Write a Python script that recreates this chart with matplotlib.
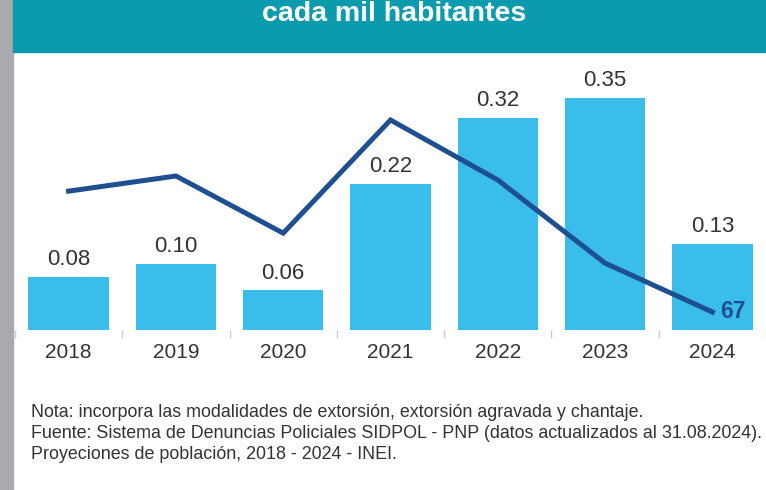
import matplotlib.pyplot as plt
import numpy as np

# datos
years = ['2018', '2019', '2020', '2021', '2022', '2023', '2024']
tasa = [0.08, 0.10, 0.06, 0.22, 0.32, 0.35, 0.13]
linea = [490, 543, 343, 739, 529, 238, 67]  # serie secundaria (solo se rotula el ultimo)

plt.rcParams['font.family'] = ['Liberation Sans', 'DejaVu Sans']

W, H = 766, 490
fig = plt.figure(figsize=(W / 100, H / 100), dpi=100)
fig.patch.set_facecolor('white')

# franja gris izquierda y banda del titulo
fig.patches.append(plt.Rectangle((0, 0), 13 / W, 1, transform=fig.transFigure,
                                 color='#a9a9ae', zorder=0))
fig.patches.append(plt.Rectangle((13 / W, 1 - 52 / H), 1, 52 / H, transform=fig.transFigure,
                                 color='#0c9bad', zorder=0))
fig.text(394 / W, 1 - 21 / H, 'cada mil habitantes', color='white', fontsize=20.5,
         fontweight='bold', ha='center', va='baseline')

# ejes principales
ax = fig.add_axes([15 / W, 1 - 330 / H, 751 / W, 270 / H])
x = np.arange(len(years))
ax.bar(x, tasa, width=0.75, color='#3bbdec', zorder=1)
for xi, v in zip(x, tasa):
    ax.text(xi, v + 0.01, f'{v:.2f}', ha='center', va='bottom', fontsize=16, color='#333333')
ax.set_xlim(-0.5, len(years) - 0.5)
ax.set_ylim(0, 0.407)
ax.set_yticks([])
ax.set_xticks(x)
ax.set_xticklabels(years, fontsize=15, color='#333333')
ax.tick_params(axis='x', which='major', length=0, pad=9)
ax.set_xticks(np.arange(-0.5, len(years)), minor=True)
ax.tick_params(axis='x', which='minor', length=6, color='#cccccc', width=1)
for s in ax.spines.values():
    s.set_visible(False)
ax.patch.set_alpha(0)

# eje secundario para la linea
ax2 = ax.twinx()
ax2.plot(x, linea, color='#1d4f91', lw=3.6, solid_joinstyle='miter', zorder=3)
ax2.set_ylim(4, 949)
ax2.set_yticks([])
for s in ax2.spines.values():
    s.set_visible(False)
ax2.text(x[-1] + 0.07, linea[-1], str(linea[-1]), color='#1d4f91', fontsize=16.5,
         fontweight='bold', ha='left', va='center')

# notas
notas = ['Nota: incorpora las modalidades de extorsión, extorsión agravada y chantaje.',
         'Fuente: Sistema de Denuncias Policiales SIDPOL - PNP (datos actualizados al 31.08.2024).',
         'Proyeciones de población, 2018 - 2024 - INEI.']
for i, t in enumerate(notas):
    fig.text(31 / W, 1 - (412 + 21 * i) / H, t, fontsize=12.9, color='#333333',
             ha='left', va='center')

fig.savefig('out.png', dpi=100)
